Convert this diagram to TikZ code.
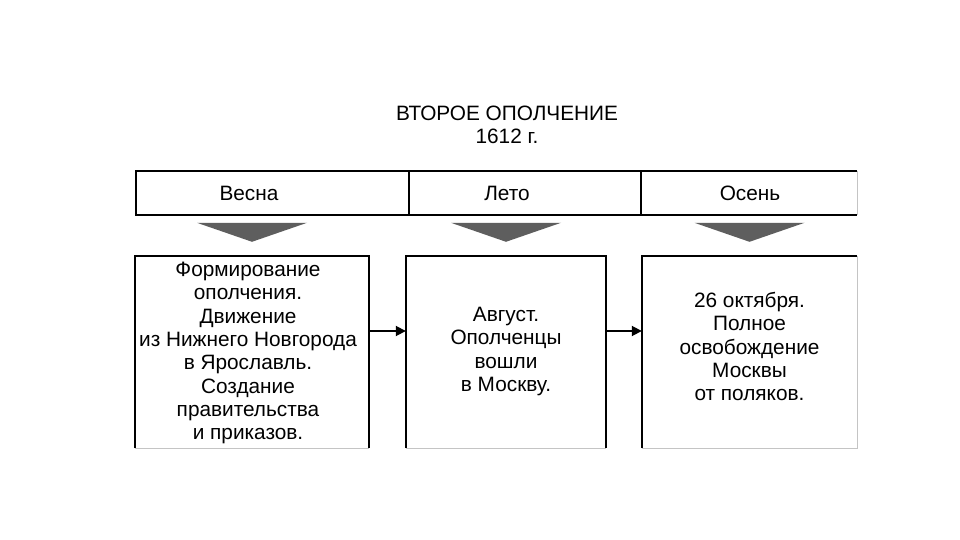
\documentclass[tikz,border=0pt]{standalone}
\usepackage{fontspec}
\setmainfont{Liberation Sans}
\usetikzlibrary{arrows.meta}
\definecolor{tri}{HTML}{5E5E5E}
\definecolor{edgegray}{HTML}{C4C4C4}
\begin{document}
\begin{tikzpicture}[x=1pt,y=-1pt,
  frame/.style={line width=2pt, black},
  cut/.style={line width=1pt, edgegray},
  txt/.style={font=\fontsize{20.8}{23.3}\selectfont, align=center, inner sep=0pt},
  cell/.style={inner sep=0pt, minimum height=44pt},
  box/.style={inner sep=0pt, minimum height=192pt},
  conn/.style={line width=1.8pt, -{Triangle[length=10pt,width=10pt]}},
  downtri/.style={fill=tri},
]
\useasboundingbox[fill=white] (0,0) rectangle (960,540);

% title
\node[txt] (title) at (507,124.5) {ВТОРОЕ ОПОЛЧЕНИЕ\\1612 г.};

% header cells
\node[cell, minimum width=273pt] (h1) at (272.5,193) {};
\node[cell, minimum width=232pt] (h2) at (525,193) {};
\node[cell, minimum width=216pt] (h3) at (749,193) {};
\draw[frame] (h3.north east) -- (h1.north west) -- (h1.south west) -- (h3.south east);
\draw[frame] (h1.north east) -- (h1.south east);
\draw[frame] (h2.north east) -- (h2.south east);
\draw[cut] (h3.north east) -- (h3.south east);
\node[txt] (l1) at (249,193) {Весна};
\node[txt] (l2) at (507,193) {Лето};
\node[txt] (l3) at (750,193) {Осень};

% lower boxes
\node[box, minimum width=234pt] (b1) at (252,352) {};
\node[box, minimum width=200pt] (b2) at (506,352) {};
\node[box, minimum width=215pt] (b3) at (749.5,352) {};
\foreach \b in {b1,b2} {
  \draw[frame] (\b.south west) -- (\b.north west) -- (\b.north east) -- (\b.south east);
  \draw[cut] (\b.south west) -- (\b.south east);
}
\draw[frame] (b3.south west) -- (b3.north west) -- (b3.north east);
\draw[cut] (b3.north east) -- (b3.south east) -- (b3.south west);

% triangles
\foreach \b in {b1,b2,b3} {
  \fill[downtri] ([xshift=-55pt,yshift=33pt]\b.north) -- ([xshift=55pt,yshift=33pt]\b.north) -- ([yshift=14pt]\b.north) -- cycle;
}

% texts
\node[txt] (t1) at (248,353) {Формирование\\ополчения.\\Движение\\из Нижнего Новгорода\\в Ярославль.\\Создание\\правительства\\и приказов.};
\node[txt] (t2) at (506,351.5) {Август.\\Ополченцы\\вошли\\в Москву.};
\node[txt] (t3) at (749.5,346.5) {26 октября.\\Полное\\освобождение\\Москвы\\от поляков.};

% connectors
\draw[conn] ([yshift=21pt]b1.east) -- ([yshift=21pt]b2.west);
\draw[conn] ([yshift=21pt]b2.east) -- ([yshift=21pt]b3.west);
\end{tikzpicture}
\end{document}
